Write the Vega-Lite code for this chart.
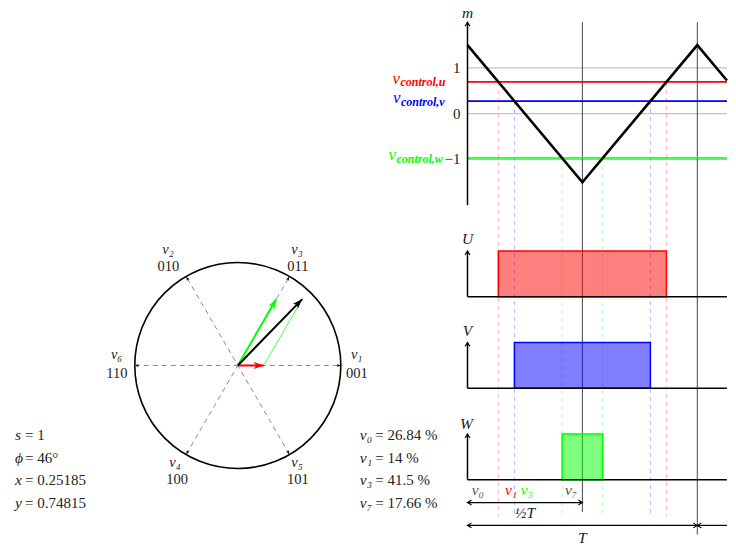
{
  "$schema": "https://vega.github.io/schema/vega-lite/v6.json",
  "width": 736,
  "height": 547,
  "autosize": {"type": "fit", "contains": "padding"},
  "padding": 0,
  "background": "white",
  "config": {"view": {"stroke": null}, "text": {"font": "Liberation Serif", "fontSize": 14, "color": "#222"}},
  "resolve": {"scale": {"x": "independent", "y": "independent", "color": "independent", "angle": "independent"}},
  "layer": [
    {
      "encoding": {
        "x": {"field": "x", "type": "quantitative", "scale": {"domain": [-2.3087, 4.8369], "nice": false, "zero": false}, "axis": null},
        "y": {"field": "y", "type": "quantitative", "scale": {"domain": [-1.7427, 3.568], "nice": false, "zero": false}, "axis": null}
      },
      "layer": [
        {
          "data": {"values": [{"x": 0, "y": 0}]},
          "mark": {"type": "point", "shape": "circle", "size": 42436, "filled": false, "stroke": "#000000", "strokeWidth": 1.6, "opacity": 1}
        },
        {
          "data": {"values": [
            {"x": -1, "y": 0, "x2": 1, "y2": 0},
            {"x": -0.5, "y": -0.866, "x2": 0.5, "y2": 0.866},
            {"x": 0.5, "y": -0.866, "x2": -0.5, "y2": 0.866}
          ]},
          "mark": {"type": "rule", "color": "#8c8c8c", "strokeWidth": 1, "strokeDash": [5, 4]},
          "encoding": {"x2": {"field": "x2"}, "y2": {"field": "y2"}}
        },
        {
          "data": {"values": [
            {"x": 1, "y": 0, "theta": 0},
            {"x": 0.5, "y": 0.866, "theta": 60},
            {"x": -0.5, "y": 0.866, "theta": 120},
            {"x": -1, "y": 0, "theta": 180},
            {"x": -0.5, "y": -0.866, "theta": 240},
            {"x": 0.5, "y": -0.866, "theta": 300}
          ]},
          "mark": {"type": "point", "shape": "M0,0L0.8,2L0,1.5L-0.8,2Z", "size": 16, "filled": true, "color": "#000000", "opacity": 1},
          "encoding": {"angle": {"field": "theta", "type": "quantitative", "scale": {"domain": [0, 360], "range": [90, -270], "nice": false, "zero": false}}}
        },
        {
          "data": {"values": [{"x": 0.25185, "y": 0, "x2": 0.62593, "y2": 0.64792}]},
          "mark": {"type": "rule", "color": "#00ff00", "strokeWidth": 0.7},
          "encoding": {"x2": {"field": "x2"}, "y2": {"field": "y2"}}
        },
        {
          "data": {"values": [
            {"v": "x", "x": 0, "y": 0, "x2": 0.25185, "y2": 0},
            {"v": "y", "x": 0, "y": 0, "x2": 0.37408, "y2": 0.64792},
            {"v": "s", "x": 0, "y": 0, "x2": 0.62593, "y2": 0.64792}
          ]},
          "mark": {"type": "rule", "strokeWidth": 2},
          "encoding": {
            "x2": {"field": "x2"}, "y2": {"field": "y2"},
            "color": {"field": "v", "type": "nominal", "scale": {"domain": ["x", "y", "s"], "range": ["#ff0000", "#00ff00", "#000000"]}, "legend": null}
          }
        },
        {
          "data": {"values": [
            {"v": "x", "x": 0.25185, "y": 0, "theta": 0},
            {"v": "y", "x": 0.37408, "y": 0.64792, "theta": 60},
            {"v": "s", "x": 0.62593, "y": 0.64792, "theta": 46}
          ]},
          "mark": {"type": "point", "shape": "M0,0L0.7,2L0,1.5L-0.7,2Z", "size": 100, "filled": true, "opacity": 1},
          "encoding": {
            "color": {"field": "v", "type": "nominal", "scale": {"domain": ["x", "y", "s"], "range": ["#ff0000", "#00ff00", "#000000"]}, "legend": null},
            "angle": {"field": "theta", "type": "quantitative", "scale": {"domain": [0, 360], "range": [90, -270], "nice": false, "zero": false}}
          }
        },
        {
          "data": {"values": [
            {"x": 1.154, "y": 0.1, "t": "v₁"},
            {"x": -1.176, "y": 0.1, "t": "v₆"},
            {"x": 0.575, "y": 1.132, "t": "v₃"},
            {"x": -0.678, "y": 1.132, "t": "v₂"},
            {"x": -0.61, "y": -0.955, "t": "v₄"},
            {"x": 0.575, "y": -0.955, "t": "v₅"}
          ]},
          "mark": {"type": "text", "fontStyle": "italic", "fontSize": 14.5, "align": "center", "baseline": "middle"},
          "encoding": {"text": {"field": "t"}}
        },
        {
          "data": {"values": [
            {"x": 1.157, "y": -0.085, "t": "001"},
            {"x": -1.173, "y": -0.085, "t": "110"},
            {"x": 0.584, "y": 0.962, "t": "011"},
            {"x": -0.673, "y": 0.962, "t": "010"},
            {"x": -0.59, "y": -1.12, "t": "100"},
            {"x": 0.584, "y": -1.12, "t": "101"}
          ]},
          "mark": {"type": "text", "fontSize": 14.5, "align": "center", "baseline": "middle"},
          "encoding": {"text": {"field": "t"}}
        },
        {
          "data": {"values": [
            {"x": -2.163, "y": -0.68, "var": "s", "rest": "= 1"},
            {"x": -2.163, "y": -0.9, "var": "ϕ", "rest": "= 46°"},
            {"x": -2.163, "y": -1.121, "var": "x", "rest": "= 0.25185"},
            {"x": -2.163, "y": -1.34, "var": "y", "rest": "= 0.74815"}
          ]},
          "layer": [
            {"mark": {"type": "text", "fontStyle": "italic", "fontSize": 15.5, "align": "left", "baseline": "middle"}, "encoding": {"text": {"field": "var"}}},
            {"mark": {"type": "text", "fontSize": 15, "align": "left", "baseline": "middle", "dx": 10}, "encoding": {"text": {"field": "rest"}}}
          ]
        },
        {
          "data": {"values": [
            {"x": 1.185, "y": -0.68, "var": "v₀", "rest": "= 26.84 %"},
            {"x": 1.185, "y": -0.9, "var": "v₁", "rest": "= 14 %"},
            {"x": 1.185, "y": -1.121, "var": "v₃", "rest": "= 41.5 %"},
            {"x": 1.185, "y": -1.34, "var": "v₇", "rest": "= 17.66 %"}
          ]},
          "layer": [
            {"mark": {"type": "text", "fontStyle": "italic", "fontSize": 15.5, "align": "left", "baseline": "middle"}, "encoding": {"text": {"field": "var"}}},
            {"mark": {"type": "text", "fontSize": 15, "align": "left", "baseline": "middle", "dx": 15.5}, "encoding": {"text": {"field": "rest"}}}
          ]
        }
      ]
    },
    {
      "encoding": {
        "x": {"field": "t", "type": "quantitative", "scale": {"domain": [-2.0344, 1.1684], "nice": false, "zero": false}, "axis": null},
        "y": {"field": "y", "type": "quantitative", "scale": {"domain": [-9.4065, 2.4848], "nice": false, "zero": false}, "axis": null}
      },
      "layer": [
        {
          "data": {"values": [
            {"t": 0, "t2": 1.129, "y": 1},
            {"t": 0, "t2": 1.129, "y": 0},
            {"t": 0, "t2": 1.129, "y": -1}
          ]},
          "mark": {"type": "rule", "color": "#b5b5b5", "strokeWidth": 1},
          "encoding": {"x2": {"field": "t2"}}
        },
        {
          "data": {"values": [
            {"p": "u", "t": 0.1342, "y": 0.6948, "y2": -8.8},
            {"p": "u", "t": 0.8658, "y": 0.6948, "y2": -8.8},
            {"p": "v", "t": 0.2042, "y": 0.2748, "y2": -8.8},
            {"p": "v", "t": 0.7958, "y": 0.2748, "y2": -8.8},
            {"p": "w", "t": 0.4117, "y": -0.9702, "y2": -8.8},
            {"p": "w", "t": 0.5883, "y": -0.9702, "y2": -8.8}
          ]},
          "mark": {"type": "rule", "strokeWidth": 1, "strokeDash": [4, 4], "opacity": 0.3},
          "encoding": {
            "y2": {"field": "y2"},
            "color": {"field": "p", "type": "nominal", "scale": {"domain": ["u", "v", "w", "n"], "range": ["#ff0000", "#0000ff", "#00ff00", "#555555"]}, "legend": null}
          }
        },
        {
          "data": {"values": [
            {"t": 0.5, "t2": 0.5, "y": 2, "y2": -8.71},
            {"t": 1, "t2": 1, "y": 2, "y2": -9.2}
          ]},
          "mark": {"type": "rule", "color": "#333333", "strokeWidth": 0.9},
          "encoding": {"x2": {"field": "t2"}, "y2": {"field": "y2"}}
        },
        {
          "data": {"values": [
            {"p": "u", "t": 0, "t2": 1.129, "y": 0.6948},
            {"p": "v", "t": 0, "t2": 1.129, "y": 0.2748},
            {"p": "w", "t": 0, "t2": 1.129, "y": -0.9702}
          ]},
          "mark": {"type": "rule", "strokeWidth": 1.6},
          "encoding": {
            "x2": {"field": "t2"},
            "color": {"field": "p", "type": "nominal", "scale": {"domain": ["u", "v", "w", "n"], "range": ["#ff0000", "#0000ff", "#00ff00", "#555555"]}, "legend": null}
          }
        },
        {
          "data": {"values": [
            {"t": 0, "y": 1.5},
            {"t": 0.5, "y": -1.5},
            {"t": 1, "y": 1.5},
            {"t": 1.129, "y": 0.726}
          ]},
          "mark": {"type": "line", "color": "#000000", "strokeWidth": 2.6}
        },
        {
          "data": {"values": [
            {"p": "u", "t": 0.1342, "t2": 0.8658, "y": -4, "y2": -3},
            {"p": "v", "t": 0.2042, "t2": 0.7958, "y": -6, "y2": -5},
            {"p": "w", "t": 0.4117, "t2": 0.5883, "y": -8, "y2": -7}
          ]},
          "mark": {"type": "rect", "fillOpacity": 0.5, "strokeWidth": 1.5},
          "encoding": {
            "x2": {"field": "t2"}, "y2": {"field": "y2"},
            "fill": {"field": "p", "type": "nominal", "scale": {"domain": ["u", "v", "w"], "range": ["#ff0000", "#0000ff", "#00ff00"]}, "legend": null},
            "stroke": {"field": "p", "type": "nominal", "scale": {"domain": ["u", "v", "w"], "range": ["#ff0000", "#0000ff", "#00ff00"]}, "legend": null}
          }
        },
        {
          "data": {"values": [
            {"t": 0, "t2": 0, "y": -2, "y2": 2},
            {"t": 0, "t2": 0, "y": -4, "y2": -3},
            {"t": 0, "t2": 0, "y": -6, "y2": -5},
            {"t": 0, "t2": 0, "y": -8, "y2": -7},
            {"t": 0, "t2": 1.129, "y": -4, "y2": -4},
            {"t": 0, "t2": 1.129, "y": -6, "y2": -6},
            {"t": 0, "t2": 1.129, "y": -8, "y2": -8}
          ]},
          "mark": {"type": "rule", "color": "#000000", "strokeWidth": 1.5},
          "encoding": {"x2": {"field": "t2"}, "y2": {"field": "y2"}}
        },
        {
          "data": {"values": [
            {"t": 0, "t2": 0.5, "y": -8.5, "y2": -8.5},
            {"t": 0, "t2": 1, "y": -9, "y2": -9},
            {"t": 1, "t2": 1.129, "y": -9, "y2": -9}
          ]},
          "mark": {"type": "rule", "color": "#000000", "strokeWidth": 1.2},
          "encoding": {"x2": {"field": "t2"}, "y2": {"field": "y2"}}
        },
        {
          "data": {"values": [
            {"t": 0, "y": 2, "theta": 90},
            {"t": 0, "y": -3, "theta": 90},
            {"t": 0, "y": -5, "theta": 90},
            {"t": 0, "y": -7, "theta": 90},
            {"t": 0, "y": -8.5, "theta": 180},
            {"t": 0.5, "y": -8.5, "theta": 0},
            {"t": 0, "y": -9, "theta": 180},
            {"t": 1, "y": -9, "theta": 0},
            {"t": 1, "y": -9, "theta": 180}
          ]},
          "mark": {"type": "point", "shape": "M-1,1.6Q-0.35,0.7 0,0Q0.35,0.7 1,1.6", "size": 25, "filled": false, "stroke": "#000000", "strokeWidth": 1.1, "opacity": 1},
          "encoding": {"angle": {"field": "theta", "type": "quantitative", "scale": {"domain": [0, 360], "range": [90, -270], "nice": false, "zero": false}}}
        },
        {
          "data": {"values": [
            {"t": 0, "y": 1, "text": "1"},
            {"t": 0, "y": 0, "text": "0"},
            {"t": 0, "y": -1, "text": "−1"}
          ]},
          "mark": {"type": "text", "fontSize": 15, "align": "right", "baseline": "middle", "dx": -7},
          "encoding": {"text": {"field": "text"}}
        },
        {
          "data": {"values": [
            {"t": 0, "y": 2.2, "text": "m"},
            {"t": 0, "y": -2.75, "text": "U"},
            {"t": 0, "y": -4.75, "text": "V"},
            {"t": -0.005, "y": -6.78, "text": "W"},
            {"t": 0.25, "y": -8.73, "text": "½T"},
            {"t": 0.5, "y": -9.27, "text": "T"}
          ]},
          "mark": {"type": "text", "fontStyle": "italic", "fontSize": 15.5, "align": "center", "baseline": "middle"},
          "encoding": {"text": {"field": "text"}}
        },
        {
          "data": {"values": [
            {"p": "n", "t": 0.018, "y": -8.22, "text": "v₀"},
            {"p": "u", "t": 0.163, "y": -8.22, "text": "v₁"},
            {"p": "w", "t": 0.2315, "y": -8.22, "text": "v₃"},
            {"p": "n", "t": 0.424, "y": -8.22, "text": "v₇"}
          ]},
          "mark": {"type": "text", "fontStyle": "italic", "fontSize": 15.5, "align": "left", "baseline": "middle"},
          "encoding": {
            "text": {"field": "text"},
            "color": {"field": "p", "type": "nominal", "scale": {"domain": ["u", "v", "w", "n"], "range": ["#ff0000", "#0000ff", "#00ff00", "#555555"]}, "legend": null}
          }
        },
        {
          "data": {"values": [
            {"p": "u", "t": -0.3264, "y": 0.6948, "sub": "control,u"},
            {"p": "v", "t": -0.3242, "y": 0.2748, "sub": "control,v"},
            {"p": "w", "t": -0.3438, "y": -0.9702, "sub": "control,w"}
          ]},
          "encoding": {
            "color": {"field": "p", "type": "nominal", "scale": {"domain": ["u", "v", "w", "n"], "range": ["#ff0000", "#0000ff", "#00ff00", "#555555"]}, "legend": null}
          },
          "layer": [
            {"mark": {"type": "text", "text": "v", "fontStyle": "italic", "fontSize": 17, "align": "left", "baseline": "alphabetic", "dy": 2}},
            {"mark": {"type": "text", "fontStyle": "italic", "fontWeight": "bold", "fontSize": 12, "align": "left", "baseline": "alphabetic", "dx": 8, "dy": 4.5}, "encoding": {"text": {"field": "sub"}}}
          ]
        }
      ]
    }
  ]
}
